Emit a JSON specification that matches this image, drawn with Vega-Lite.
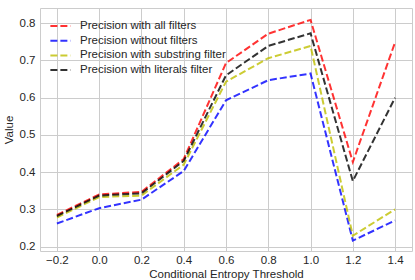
{
  "$schema": "https://vega.github.io/schema/vega-lite/v6.json",
  "autosize": {"type": "none"},
  "padding": {"left": 40, "top": 8, "right": 3, "bottom": 29},
  "width": 372,
  "height": 243,
  "config": {
    "font": "Liberation Sans",
    "view": {"stroke": "#cccccc", "strokeWidth": 1},
    "axis": {
      "grid": true, "gridColor": "#cccccc", "gridWidth": 1,
      "domain": false, "ticks": false,
      "labelFontSize": 11.5, "labelColor": "#262626",
      "titleFontSize": 11.5, "titleColor": "#262626", "titleFontWeight": "normal"
    }
  },
  "data": {
    "values": [
      {"t": -0.2, "series": "Precision with all filters", "v": 0.285},
      {"t": 0.0, "series": "Precision with all filters", "v": 0.34},
      {"t": 0.2, "series": "Precision with all filters", "v": 0.347},
      {"t": 0.4, "series": "Precision with all filters", "v": 0.435},
      {"t": 0.6, "series": "Precision with all filters", "v": 0.693},
      {"t": 0.8, "series": "Precision with all filters", "v": 0.772},
      {"t": 1.0, "series": "Precision with all filters", "v": 0.809},
      {"t": 1.2, "series": "Precision with all filters", "v": 0.427},
      {"t": 1.4, "series": "Precision with all filters", "v": 0.749},
      {"t": -0.2, "series": "Precision without filters", "v": 0.262},
      {"t": 0.0, "series": "Precision without filters", "v": 0.303},
      {"t": 0.2, "series": "Precision without filters", "v": 0.326},
      {"t": 0.4, "series": "Precision without filters", "v": 0.403},
      {"t": 0.6, "series": "Precision without filters", "v": 0.593},
      {"t": 0.8, "series": "Precision without filters", "v": 0.647},
      {"t": 1.0, "series": "Precision without filters", "v": 0.665},
      {"t": 1.2, "series": "Precision without filters", "v": 0.216},
      {"t": 1.4, "series": "Precision without filters", "v": 0.27},
      {"t": -0.2, "series": "Precision with substring filter", "v": 0.278},
      {"t": 0.0, "series": "Precision with substring filter", "v": 0.333},
      {"t": 0.2, "series": "Precision with substring filter", "v": 0.337},
      {"t": 0.4, "series": "Precision with substring filter", "v": 0.42},
      {"t": 0.6, "series": "Precision with substring filter", "v": 0.643},
      {"t": 0.8, "series": "Precision with substring filter", "v": 0.706},
      {"t": 1.0, "series": "Precision with substring filter", "v": 0.739},
      {"t": 1.2, "series": "Precision with substring filter", "v": 0.229},
      {"t": 1.4, "series": "Precision with substring filter", "v": 0.3},
      {"t": -0.2, "series": "Precision with literals filter", "v": 0.282},
      {"t": 0.0, "series": "Precision with literals filter", "v": 0.337},
      {"t": 0.2, "series": "Precision with literals filter", "v": 0.343},
      {"t": 0.4, "series": "Precision with literals filter", "v": 0.43},
      {"t": 0.6, "series": "Precision with literals filter", "v": 0.66},
      {"t": 0.8, "series": "Precision with literals filter", "v": 0.739},
      {"t": 1.0, "series": "Precision with literals filter", "v": 0.773},
      {"t": 1.2, "series": "Precision with literals filter", "v": 0.376},
      {"t": 1.4, "series": "Precision with literals filter", "v": 0.6}
    ]
  },
  "mark": {"type": "line", "strokeDash": [7, 3], "strokeWidth": 2, "opacity": 0.8},
  "encoding": {
    "x": {
      "field": "t", "type": "quantitative", "title": "Conditional Entropy Threshold",
      "scale": {"domain": [-0.28, 1.48], "nice": false, "zero": false},
      "axis": {"values": [-0.2, 0, 0.2, 0.4, 0.6, 0.8, 1.0, 1.2, 1.4], "format": ".1f", "labelPadding": 3, "titlePadding": 3}
    },
    "y": {
      "field": "v", "type": "quantitative", "title": "Value",
      "scale": {"domain": [0.188, 0.841], "nice": false, "zero": false},
      "axis": {"values": [0.2, 0.3, 0.4, 0.5, 0.6, 0.7, 0.8], "format": ".1f", "labelPadding": 5, "titlePadding": 5}
    },
    "color": {
      "field": "series", "type": "nominal",
      "sort": ["Precision with all filters", "Precision without filters", "Precision with substring filter", "Precision with literals filter"],
      "scale": {
        "domain": ["Precision with all filters", "Precision without filters", "Precision with substring filter", "Precision with literals filter"],
        "range": ["#ff0000", "#0000ff", "#bfbf00", "#000000"]
      },
      "legend": {
        "title": null, "orient": "none", "legendX": 12, "legendY": 9.5,
        "symbolType": "M-1.35,0H1.35", "symbolSize": 225, "symbolStrokeWidth": 2, "symbolDash": [7, 3], "symbolOpacity": 0.8,
        "labelFontSize": 11.5, "labelColor": "#262626", "rowPadding": 0.7, "labelOffset": 11
      }
    }
  }
}
